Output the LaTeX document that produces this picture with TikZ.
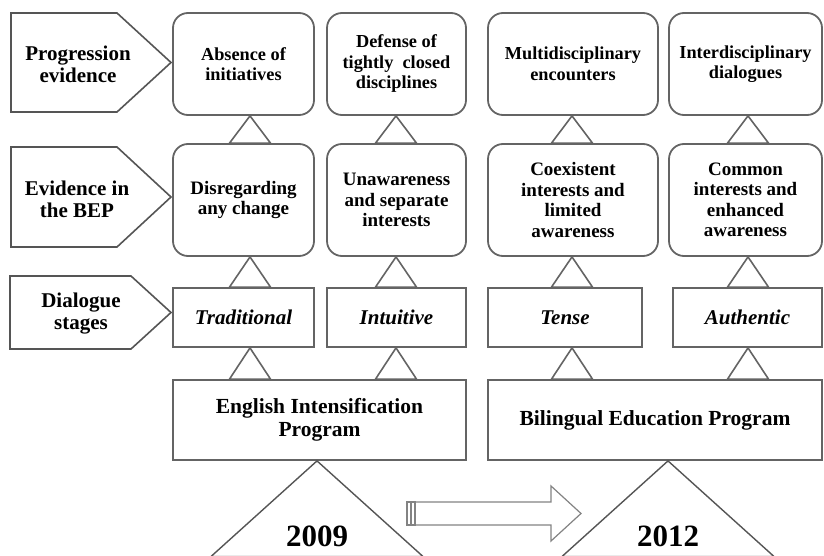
\documentclass[tikz,border=0pt]{standalone}
\usepackage{fontspec}
\setmainfont{Liberation Serif}
\definecolor{lc}{RGB}{100,100,100}
\definecolor{pc}{RGB}{85,85,85}
\newcommand\tri[3]{\draw[tri] (#1,0 |- #2.south) -- (#1-20.5,0 |- #3.north) -- (#1+20.5,0 |- #3.north) -- cycle;}
\begin{document}
\begin{tikzpicture}[x=1pt,y=-1pt,
  rbox/.style={draw=lc, line width=1.8pt, rounded corners=15pt, align=center, inner sep=0pt},
  rtop/.style={rbox, font=\bfseries\fontsize{18.3}{20.5}\selectfont},
  rmid/.style={rbox, font=\bfseries\fontsize{19}{20.5}\selectfont},
  sbox/.style={draw=lc, line width=1.8pt, align=center, inner sep=0pt},
  stage/.style={sbox, font=\bfseries\itshape\fontsize{21}{22}\selectfont},
  prog/.style={sbox, font=\bfseries\fontsize{21.5}{23}\selectfont},
  pent/.style={draw=pc, line width=1.6pt},
  plab/.style={align=center, inner sep=0pt, font=\bfseries\fontsize{21}{22}\selectfont},
  tri/.style={draw=lc, line width=1.6pt, fill=white, line join=miter},
  big/.style={draw=pc, line width=1.4pt},
  year/.style={inner sep=0pt, font=\bfseries\fontsize{31}{31}\selectfont},
  barrow/.style={draw=lc!80, line width=1.2pt, fill=white}]
\path[use as bounding box] (0,0) rectangle (824,556);
\clip (0,0) rectangle (824,556);
% left pentagon labels
\draw[pent] (11,13) -- (117,13) -- (171,62.5) -- (117,112) -- (11,112) -- cycle;
\node[plab] (p1) at (78,64) {Progression\\evidence};
\draw[pent] (11,147) -- (117,147) -- (171,197) -- (117,247) -- (11,247) -- cycle;
\node[plab] (p2) at (77,199) {Evidence in\\the BEP};
\draw[pent] (10,276) -- (131,276) -- (171,312.5) -- (131,349) -- (10,349) -- cycle;
\node[plab] (p3) at (81,314) {Dialogue\\stages};
% row 1
\node[rtop, minimum width=141, minimum height=102] (a1) at (243.5,64) {Absence of\\initiatives};
\node[rtop, minimum width=139, minimum height=102] (a2) at (396.5,64) {Defense of\\tightly\ \ closed\\disciplines};
\node[rtop, minimum width=170, minimum height=102] (a3) at (573,64) {Multidisciplinary\\encounters};
\node[rtop, minimum width=153, minimum height=102] (a4) at (745.5,64) {Interdisciplinary\\dialogues};
% row 2
\node[rmid, minimum width=141, minimum height=112] (b1) at (243.5,200) {Disregarding\\any change};
\node[rmid, minimum width=139, minimum height=112] (b2) at (396.5,200) {Unawareness\\and separate\\interests};
\node[rmid, minimum width=170, minimum height=112] (b3) at (573,200) {Coexistent\\interests and\\limited\\awareness};
\node[rmid, minimum width=153, minimum height=112] (b4) at (745.5,200) {Common\\interests and\\enhanced\\awareness};
% row 3
\node[stage, minimum width=141, minimum height=59] (c1) at (243.5,317.5) {Traditional};
\node[stage, minimum width=139, minimum height=59] (c2) at (396.5,317.5) {Intuitive};
\node[stage, minimum width=154, minimum height=59] (c3) at (565,317.5) {Tense};
\node[stage, minimum width=149, minimum height=59] (c4) at (747.5,317.5) {Authentic};
% row 4
\node[prog, minimum width=293, minimum height=80] (d1) at (319.5,420) {English Intensification\\Program};
\node[prog, minimum width=334, minimum height=80] (d2) at (655,420) {Bilingual Education Program};
% small triangles
\tri{250}{a1}{b1}\tri{396}{a2}{b2}\tri{572}{a3}{b3}\tri{748}{a4}{b4}
\tri{250}{b1}{c1}\tri{396}{b2}{c2}\tri{572}{b3}{c3}\tri{748}{b4}{c4}
\tri{250}{c1}{d1}\tri{396}{c2}{d2}\tri{572}{c3}{d2}\tri{748}{c4}{d2}
% big triangles
\draw[big] (317,0 |- d1.south) -- (211,556.5) -- (423,556.5) -- cycle;
\draw[big] (668,0 |- d2.south) -- (562,556.5) -- (774,556.5) -- cycle;
\node[year] (y1) at (317,536) {2009};
\node[year] (y2) at (668,536) {2012};
% block arrow
\draw[barrow] (415,502) -- (551,502) -- (551,486) -- (581,513.5) -- (551,541) -- (551,525) -- (415,525) -- cycle;
\draw[barrow] (407,502) rectangle (411,525);
\draw[barrow] (411,502) rectangle (415,525);
\end{tikzpicture}
\end{document}
